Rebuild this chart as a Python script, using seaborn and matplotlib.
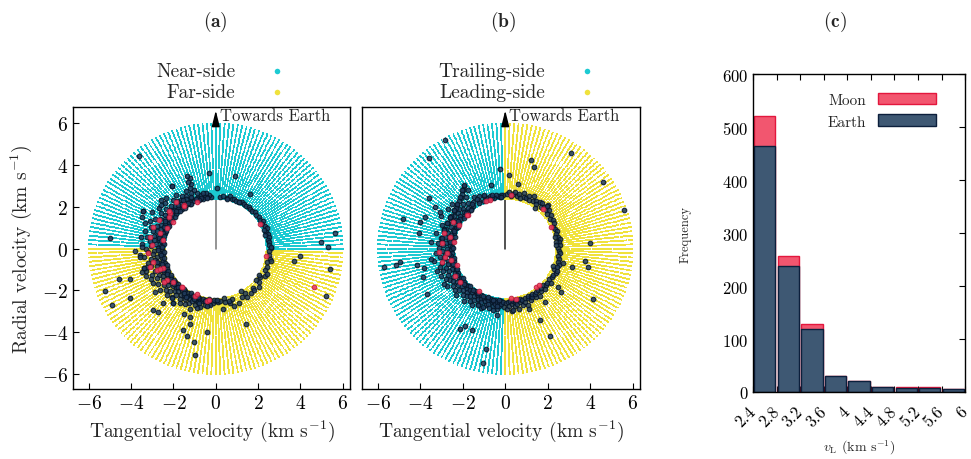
import numpy as np
import pandas as pd
import matplotlib
matplotlib.use("Agg")
import matplotlib.pyplot as plt
from matplotlib.patches import Patch
import seaborn as sns

# ---------------- data ----------------
# background sampling of the velocity annulus (deg, km/s)
grid_angle_step = 2
grid_speed_min, grid_speed_max, grid_speed_step = 2.4, 6.0, 0.09

# Panel (a): band of Earth-bound points near the escape ring (angle deg, speed km/s)
a_earth_band = [
    (95,2.5),(97,2.6),(99,2.5),(100,2.7),(102,2.55),(104,2.45),(105,2.65),(107,2.5),(108,2.8),(110,2.6),
    (110,3.0),(111,3.3),(110,3.6),(111,3.75),(112,3.45),(113,3.15),(114,2.9),(115,2.5),(116,2.7),(117,3.1),
    (118,2.55),(119,2.9),(120,2.45),(121,2.75),(122,3.0),(123,2.6),(124,2.5),(125,2.85),(126,3.2),(127,2.55),
    (128,2.7),(129,2.95),(130,2.5),(131,3.1),(132,2.65),(133,2.8),(134,3.4),(135,2.55),(136,2.95),(137,2.7),
    (138,3.25),(139,2.5),(140,2.85),(141,3.05),(142,2.6),(143,2.75),(144,3.3),(145,2.5),(146,2.9),(147,3.1),
    (148,2.65),(149,2.8),(150,3.5),(151,2.55),(152,3.0),(153,2.7),(154,3.2),(155,2.5),(156,2.85),(157,3.4),
    (158,2.6),(159,3.0),(160,2.75),(161,3.25),(162,2.5),(163,2.9),(164,3.1),(165,2.65),(166,3.45),(167,2.8),
    (168,3.0),(169,2.55),(170,3.3),(171,2.7),(172,2.95),(173,3.15),(174,2.5),(175,2.85),(176,3.5),(177,2.6),
    (178,3.05),(179,2.75),(180,3.3),(181,2.55),(182,2.9),(183,3.2),(184,2.65),(185,3.0),(186,2.5),(187,3.4),
    (188,2.8),(189,3.1),(190,2.6),(191,2.95),(192,3.3),(193,2.55),(194,2.75),(195,3.15),(196,2.5),(197,2.9),
    (198,3.45),(199,2.65),(200,3.05),(201,2.8),(202,2.5),(203,3.25),(204,2.7),(205,2.95),(206,2.55),(207,3.1),
    (208,2.8),(209,3.4),(210,2.6),(211,2.9),(212,3.2),(213,2.5),(214,2.75),(215,3.0),(216,2.6),(217,3.3),
    (218,2.85),(219,2.5),(220,3.05),(221,2.7),(222,2.55),(223,2.95),(224,3.2),(225,2.65),(226,2.8),(227,2.5),
    (228,3.1),(229,2.7),(230,2.9),(231,2.55),(232,3.3),(233,2.75),(234,2.5),(235,2.95),(236,2.65),(237,3.1),
    (238,2.5),(239,2.8),(240,2.6),(241,3.0),(242,2.5),(243,2.7),(244,2.9),(245,2.55),(246,2.75),(247,3.15),
    (248,2.5),(249,2.65),(250,2.85),(251,2.5),(252,2.7),(253,2.55),(255,2.9),(256,2.6),(258,2.5),(259,2.75),
    (261,2.55),(263,2.65),(265,2.5),(267,2.6),(270,2.5),(272,2.55),(275,2.5),
    (100,2.45),(103,2.75),(106,2.55),(109,2.45),(112,2.55),(115,2.75),(118,2.45),(121,2.55),(124,2.8),
    (127,2.45),(130,2.75),(133,2.5),(136,2.6),(139,2.75),(142,2.45),(145,2.7),(148,2.5),(151,2.75),
    (154,2.45),(157,2.65),(160,2.5),(163,2.6),(166,2.5),(169,2.75),(172,2.6),(175,2.45),(178,2.55),
    (181,2.75),(184,2.45),(187,2.6),(190,2.5),(193,2.85),(196,2.65),(199,2.45),(202,2.7),(205,2.5),
    (208,2.6),(211,2.45),(214,2.55),(217,2.5),(220,2.6),(223,2.45),(226,2.55),(229,2.5),(232,2.45),
    (235,2.6),(238,2.7),(241,2.45),(244,2.5),(247,2.6),(250,2.45),(253,2.7),(256,2.5),(259,2.55),
    (262,2.45),(264,2.7),(268,2.45),(171,3.6),(185,3.6),(195,3.5),(160,3.55),(205,3.4),
    (85,2.5),(82,2.55),(78,2.5),(75,2.6),(72,2.5),(70,2.55),(67,2.5),(64,2.5),(61,2.55),(58,2.5),
    (55,2.5),(52,2.55),(49,2.5),(46,2.5),(43,2.55),(40,2.5),(37,2.55),(34,2.5),(31,2.6),(28,2.5),
    (25,2.55),(22,2.6),(19,2.5),(16,2.55),(13,2.6),(10,2.5),(7,2.55),(4,2.5),(1,2.6),(357,2.5),
    (353,2.55),(349,2.6),(345,2.5),(340,2.6),(336,2.55),(331,2.65),(327,2.5),(322,2.6),(318,2.75),(313,2.55),
    (308,2.7),(303,2.5),(298,2.6),(293,2.8),(288,2.55),(284,2.7),(280,2.6),(277,2.9),
]
# Panel (a): scattered Earth-bound points (x, y in km/s)
a_earth_scatter = [
    (-3.63,4.43),(-0.33,3.63),(0.9,3.5),(-2.05,3.0),(0.06,2.9),(-3.46,1.8),(-4.98,0.52),(5.65,0.73),
    (4.98,0.33),(-3.82,-0.1),(-4.59,-1.46),(-4.07,-1.45),(-5.22,-2.02),(-4.9,-2.68),(-4.07,-2.36),
    (-3.5,-1.1),(-3.24,-0.86),(-2.98,-2.92),(-2.71,-3.05),(-2.51,-2.6),(-2.03,-2.6),(-1.52,-3.13),
    (-1.21,-3.29),(-1.21,-3.6),(-1.57,-3.87),(-1.36,-4.16),(-1.02,-4.48),(-1.0,-5.08),(-0.41,-3.97),
    (1.41,-3.6),(5.22,-2.24),(5.38,-0.98),(3.71,-0.57),(3.98,-0.35),(5.3,0.06),(-0.9,-2.84),(-0.4,-2.73),
    (-2.86,-2.05),(-2.06,-2.36),(1.6,2.6),(1.12,2.23),(0.54,2.36),(2.27,0.9),(2.35,0.65),(2.6,0.1),
    (2.6,-0.6),(2.44,-1.2),(2.05,-1.25),(1.89,-1.49),(1.8,-1.97),(1.49,-2.29),(1.17,-2.04),(0.86,-2.73),
    (0.62,-2.52),(0.38,-2.36),(0.06,-2.44),(-3.5,1.5),(-3.45,1.8),(-3.6,-0.4),(-3.5,0.1),(-3.4,-0.9),
    (-3.3,-1.3),(-2.6,2.1),(-2.6,2.35),(-2.05,3.0),
]
# Panel (a): points of lunar origin (x, y in km/s)
a_moon = [
    (2.08,1.2),(4.63,-1.81),(2.37,-0.35),(-0.4,-2.48),(-0.97,-2.24),(-1.6,-1.81),(-3.19,-0.19),
    (-2.95,-0.62),(-2.78,-1.02),(-2.48,-0.94),(-2.32,-1.49),(-2.0,-1.57),(-2.95,1.05),(-2.63,0.73),
    (-2.32,0.97),(-2.16,1.7),(-2.0,1.3),(-3.11,0.57),(-2.48,0.41),(-3.03,0.16),(-0.89,2.24),(-1.49,2.08),
    (-2.2,1.52),(-2.7,1.36),(-1.9,2.22),(-2.22,1.8),(-1.51,2.06),(-3.1,-0.87),(-2.62,-0.95),(-2.46,-1.59),
    (-1.59,-1.83),(-0.87,-2.19),(-0.32,-2.46),
]

# Panel (b): band of Earth-bound points (angle deg, speed km/s)
b_earth_band = [
    (92,2.55),(94,2.6),(96,2.5),(98,2.55),(100,2.6),(102,2.5),(104,2.55),(106,2.65),(108,2.5),(110,2.6),
    (112,2.7),(114,2.5),(116,2.8),(118,2.6),(120,2.5),(121,2.9),(122,3.3),(123,3.6),(124,2.7),(125,3.45),
    (126,2.55),(127,3.1),(128,3.3),(129,2.8),(130,2.5),(131,3.2),(132,2.65),(133,2.95),(134,3.15),(135,2.5),
    (136,2.75),(137,3.1),(138,2.6),(139,2.9),(140,3.05),(141,2.5),(142,2.8),(143,3.0),(144,2.65),(145,3.3),
    (146,2.55),(147,2.9),(148,3.0),(149,2.7),(150,2.5),(151,3.0),(152,2.8),(153,3.4),(154,2.6),(155,2.95),
    (156,3.0),(157,2.5),(158,2.75),(159,3.2),(160,2.6),(161,2.95),(162,3.05),(163,2.5),(164,2.8),(165,3.0),
    (166,2.65),(167,3.35),(168,2.55),(169,2.9),(170,3.05),(171,2.7),(172,2.5),(173,3.0),(174,2.8),(175,3.2),
    (176,2.6),(177,2.95),(178,2.5),(179,3.1),(180,2.75),(181,2.55),(182,3.0),(183,2.7),(184,3.25),(185,2.5),
    (186,2.85),(187,3.1),(188,2.6),(189,2.9),(190,3.4),(191,2.55),(192,2.75),(193,3.05),(194,2.5),(195,2.8),
    (196,3.2),(197,2.6),(198,2.95),(199,2.5),(200,3.1),(201,2.7),(202,2.85),(203,3.3),(204,2.55),(205,2.95),
    (206,2.65),(207,3.15),(208,2.5),(209,2.8),(210,3.0),(211,2.6),(212,2.9),(213,3.25),(214,2.5),(215,2.75),
    (216,3.05),(217,2.6),(218,2.85),(219,2.5),(220,3.1),(221,2.7),(222,2.95),(223,2.55),(224,3.2),(225,2.8),
    (226,2.5),(227,2.65),(228,3.0),(229,2.75),(230,2.55),(231,2.9),(232,3.15),(233,2.6),(234,2.8),(235,2.5),
    (236,3.0),(237,2.7),(238,2.55),(239,2.85),(240,3.1),(241,2.6),(242,2.75),(243,2.5),(244,2.95),(245,2.65),
    (246,2.8),(247,2.55),(248,3.05),(249,2.7),(250,2.5),(251,2.85),(252,2.6),(253,2.75),(254,2.5),(255,2.95),
    (256,2.65),(257,2.55),(258,2.8),(259,2.5),(260,2.7),(261,2.6),(262,2.9),(263,2.55),(264,2.75),(265,2.5),
    (266,2.65),(268,2.55),(269,2.8),(271,2.6),(272,2.9),(273,2.55),(274,2.75),(275,2.5),(276,3.0),(277,2.65),
    (278,2.55),(279,2.8),(280,2.6),(281,2.5),(282,2.7),(283,2.95),(284,2.55),(285,2.65),(286,2.5),(287,2.8),
    (288,2.6),(290,2.7),(291,2.55),(292,2.9),(294,2.6),(295,2.5),(296,2.75),(298,2.55),(299,2.65),(300,2.5),
    (302,2.7),(303,2.6),(305,2.55),(306,2.8),(308,2.5),(310,2.65),(312,2.55),(314,2.7),(316,2.5),(318,2.6),
    (320,2.55),(323,2.7),(325,2.5),(328,2.6),(331,2.55),(334,2.65),(337,2.5),
    (131,2.45),(137,2.5),(143,2.45),(149,2.6),(155,2.45),(161,2.55),(167,2.45),(173,2.6),(179,2.45),
    (185,2.65),(191,2.45),(197,2.55),(203,2.45),(209,2.6),(215,2.45),(221,2.55),(227,2.45),(233,2.5),
    (239,2.45),(245,2.5),(251,2.45),(257,2.5),(263,2.45),(175,3.5),(188,3.55),(198,3.4),(210,3.35),
    (88,2.6),(86,2.7),(84,2.55),(82,2.65),(80,2.75),(78,2.6),(76,2.7),(74,2.55),(72,2.8),(70,2.65),
    (68,2.6),(66,2.75),(64,2.6),(62,2.85),(60,2.65),(58,2.7),(56,2.6),(54,2.75),(52,2.8),(50,2.6),
    (48,2.7),(46,2.9),(44,2.65),(42,2.75),(40,2.6),(37,2.7),(34,2.55),(31,2.65),(28,2.6),(25,2.5),
    (22,2.55),(19,2.6),(16,2.5),(13,2.55),(10,2.6),(7,2.55),(4,2.6),(1,2.5),(358,2.55),(355,2.6),
    (352,2.5),(349,2.6),(346,2.55),(343,2.65),(340,2.6),
]
# Panel (b): scattered Earth-bound points (x, y in km/s)
b_earth_scatter = [
    (-2.86,5.2),(-3.59,4.35),(-0.24,3.83),(1.22,4.25),(1.36,3.9),(3.08,4.59),(4.6,3.19),(5.62,1.87),
    (4.0,0.29),(0.19,3.51),(0.62,3.11),(-0.68,3.06),(-4.81,1.41),(-3.59,2.44),(-4.02,1.29),(-3.78,1.52),
    (-4.05,0.76),(-3.3,1.98),(-3.06,1.76),(-2.51,2.16),(-1.56,2.16),(-1.32,2.4),(-1.0,2.56),(-0.6,2.56),
    (-0.2,2.48),(2.33,0.57),(2.41,0.33),(2.37,0.17),(1.41,1.95),(1.99,2.03),(-5.73,-0.89),(-5.16,-0.77),
    (-4.97,-0.62),(-4.14,-0.77),(-3.86,-1.37),(-3.7,-2.17),(-3.81,-0.94),(-2.11,-3.83),(-1.9,-3.71),
    (-1.56,-3.87),(-0.92,-4.79),(-1.05,-5.46),(-1.27,-2.71),(-1.03,-2.81),(-0.57,-2.92),(-0.4,-3.16),
    (-0.37,-2.73),(1.62,-3.43),(2.13,-4.16),(1.86,-2.57),(1.1,-2.89),(0.35,-2.95),(4.13,-2.41),
    (3.75,-0.57),(3.89,-0.86),(3.16,-0.89),(2.7,-0.67),(2.49,-1.81),(2.65,-2.05),(2.46,-1.05),(2.27,-0.83),
    (-1.95,3.06),(-2.03,2.79),(-2.11,2.47),(-2.27,2.16),(-2.43,1.84),(-2.6,1.52),(-2.75,1.21),(-2.9,0.89),
    (-2.98,0.49),
]
# Panel (b): points of lunar origin (x, y in km/s)
b_moon = [
    (2.17,1.05),(1.79,1.92),(0.27,2.57),(-0.7,2.32),(-1.76,1.63),(-2.48,1.29),(-2.17,1.13),(-2.9,0.73),
    (-2.6,0.57),(-2.43,0.33),(-2.98,0.25),(0.27,-2.37),(0.51,-2.41),(1.43,-1.81),(1.6,-1.73),
    (-1.24,-2.02),(-2.11,-1.57),(-2.35,-1.33),(-2.27,-0.77),(-2.98,-0.62),(-2.83,-0.38),(-2.56,-0.54),
    (-3.1,-0.14),(-2.75,-0.22),(-0.89,2.27),(-1.81,1.62),
]

# Panel (c): histogram of launch speed
hist_edges = [2.4, 2.8, 3.2, 3.6, 4.0, 4.4, 4.8, 5.2, 5.6, 6.0]
hist_tick_labels = ["2.4", "2.8", "3.2", "3.6", "4", "4.4", "4.8", "5.2", "5.6", "6"]
earth_counts = [464, 237, 118, 30, 20, 9, 8, 8, 6]
moon_counts = [57, 19, 11, 1, 1, 1, 1, 1, 0]

# ---------------- style ----------------
sns.set_theme(style="ticks")
plt.rcParams.update({
    "font.family": ["cmr10"],
    "mathtext.fontset": "cm",
    "axes.formatter.use_mathtext": True,
    "axes.linewidth": 1.0,
    "axes.edgecolor": "black",
    "xtick.color": "black",
    "ytick.color": "black",
})

CYAN = "#1ccad2"
YELLOW = "#f0e23c"
NAVY_FILL = "#1f3a5c"
NAVY_EDGE = "#061426"
RED_FILL = "#ee3d5f"
RED_EDGE = "#c01d3e"
MOON_BAR = "#f2566f"
MOON_EDGE = "#e3173d"
EARTH_BAR = "#3e5873"
EARTH_EDGE = "#0c1f3c"

fig = plt.figure(figsize=(9.71, 4.6), dpi=100)
axA = fig.add_axes([0.0752, 0.152, 0.2853, 0.613])
axB = fig.add_axes([0.3728, 0.152, 0.2863, 0.613])
axC = fig.add_axes([0.7755, 0.1457, 0.2184, 0.691])

ang = np.arange(0, 360, grid_angle_step)
spd = np.arange(grid_speed_min, grid_speed_max + 1e-9, grid_speed_step)
AA, RR = np.meshgrid(np.deg2rad(ang), spd)
grid = pd.DataFrame({"x": (RR * np.cos(AA)).ravel(), "y": (RR * np.sin(AA)).ravel(),
                     "deg": np.rad2deg(AA).ravel()})


def band_to_xy(band):
    a = np.deg2rad([p[0] for p in band])
    v = np.array([p[1] for p in band])
    return v * np.cos(a), v * np.sin(a)


def draw_panel(ax, side_col, labels, band, scatter, moon, line_color):
    g = grid.copy()
    if side_col == "y":
        g["side"] = np.where(g["deg"] < 180, labels[0], labels[1])
    else:
        g["side"] = np.where(g["x"] < -1e-9, labels[0], labels[1])
    ax.plot([0, 0], [0, 6.1], color=line_color, lw=1.1, zorder=1)
    sns.scatterplot(data=g, x="x", y="y", hue="side", palette={labels[0]: CYAN, labels[1]: YELLOW},
                    s=1.8, marker="s", linewidth=0, legend=False, ax=ax, zorder=2)
    bx, by = band_to_xy(band)
    ex = np.concatenate([bx, [p[0] for p in scatter]])
    ey = np.concatenate([by, [p[1] for p in scatter]])
    sns.scatterplot(x=ex, y=ey, color=NAVY_FILL, edgecolor=NAVY_EDGE, linewidth=0.8, s=11,
                    alpha=0.85, ax=ax, zorder=3)
    sns.scatterplot(x=[p[0] for p in moon], y=[p[1] for p in moon], color=RED_FILL,
                    edgecolor=RED_EDGE, linewidth=0.7, s=11, alpha=0.9, ax=ax, zorder=4)
    ax.annotate("", xy=(0, 6.62), xytext=(0, 6.05),
                arrowprops=dict(arrowstyle="-|>,head_length=0.8,head_width=0.2", color="black",
                                lw=1.0, shrinkA=0, shrinkB=0), zorder=5)
    ax.text(0.2, 6.38, "Towards Earth", fontsize=12, ha="left", va="center", zorder=5)
    ax.set_xlim(-6.75, 6.35)
    ax.set_ylim(-6.72, 6.78)
    ax.set_xticks([-6, -4, -2, 0, 2, 4, 6])
    ax.set_yticks([-6, -4, -2, 0, 2, 4, 6])
    ax.tick_params(direction="in", length=4, width=0.8, labelsize=14)
    ax.set_xlabel("Tangential velocity (km s$^{-1}$)", fontsize=14)
    ax.set_ylabel("")
    for sp in ax.spines.values():
        sp.set_visible(True)
        sp.set_linewidth(1.0)


draw_panel(axA, "y", ["Near-side", "Far-side"], a_earth_band, a_earth_scatter, a_moon, "#777777")
draw_panel(axB, "x", ["Trailing-side", "Leading-side"], b_earth_band, b_earth_scatter, b_moon, "#222222")
axA.set_ylabel("Radial velocity (km s$^{-1}$)", fontsize=14, labelpad=6)
axB.tick_params(labelleft=False, left=False)

# manual legends above panels (text right-aligned, marker at right)
for ax, labs, tx, mx in [(axA, ["Near-side", "Far-side"], 0.585, 0.736),
                         (axB, ["Trailing-side", "Leading-side"], 0.658, 0.809)]:
    for lab, yy, col in zip(labs, [1.128, 1.053], [CYAN, YELLOW]):
        ax.text(tx, yy, lab, transform=ax.transAxes, ha="right", va="center", fontsize=14)
        ax.scatter([mx], [yy], transform=ax.transAxes, s=16, color=col, clip_on=False, linewidth=0)

# histogram panel
centers = [(hist_edges[i] + hist_edges[i + 1]) / 2 for i in range(len(earth_counts))]
totals = [e + m for e, m in zip(earth_counts, moon_counts)]
sns.histplot(x=centers, weights=totals, bins=hist_edges, shrink=0.9, color=MOON_BAR,
             edgecolor=MOON_EDGE, linewidth=1.0, alpha=1, ax=axC)
sns.histplot(x=centers, weights=earth_counts, bins=hist_edges, shrink=0.9, color=EARTH_BAR,
             edgecolor=EARTH_EDGE, linewidth=1.0, alpha=1, ax=axC)
axC.set_xlim(2.4, 6.0)
axC.set_ylim(0, 600)
axC.set_xticks(hist_edges)
axC.set_xticklabels(hist_tick_labels, rotation=45, ha="right", va="center", rotation_mode="anchor")
axC.set_yticks([0, 100, 200, 300, 400, 500, 600])
axC.tick_params(direction="in", length=4, width=0.8, labelsize=12, top=True, right=True)
axC.tick_params(axis="x", pad=12)
axC.set_xlabel(r"$v_\mathrm{L}$ (km s$^{-1}$)", fontsize=10, labelpad=6)
axC.set_ylabel("Frequency", fontsize=9, labelpad=22)
for sp in axC.spines.values():
    sp.set_visible(True)
axC.legend(handles=[Patch(facecolor=MOON_BAR, edgecolor=MOON_EDGE, label="Moon"),
                    Patch(facecolor=EARTH_BAR, edgecolor=EARTH_EDGE, label="Earth")],
           loc="upper right", bbox_to_anchor=(0.93, 0.985), frameon=False, fontsize=11,
           markerfirst=False, handlelength=3.8, handleheight=0.8, labelspacing=0.5)

# panel titles
for xp, t in [(215, "(a)"), (503, "(b)"), (835, "(c)")]:
    fig.text(xp / 971, 1 - 22 / 460, r"$\mathbf{" + t + "}$", ha="center", va="center", fontsize=14)

fig.savefig("out.png", dpi=100)
